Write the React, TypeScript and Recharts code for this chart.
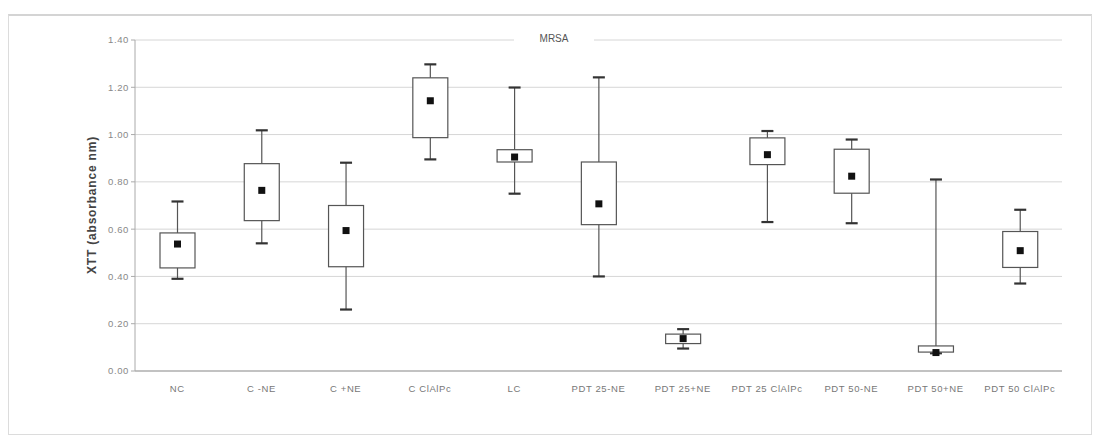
import { ComposedChart, Bar, XAxis, YAxis, CartesianGrid } from "recharts";

const categories = [
  "NC",
  "C -NE",
  "C +NE",
  "C ClAlPc",
  "LC",
  "PDT 25-NE",
  "PDT 25+NE",
  "PDT 25 ClAlPc",
  "PDT 50-NE",
  "PDT 50+NE",
  "PDT 50 ClAlPc",
];
const whiskerLow = [0.39, 0.54, 0.26, 0.895, 0.75, 0.4, 0.095, 0.63, 0.625, 0.075, 0.37];
const q1 = [0.436, 0.636, 0.441, 0.987, 0.884, 0.619, 0.116, 0.873, 0.752, 0.08, 0.438];
const q3 = [0.584, 0.877, 0.7, 1.24, 0.936, 0.884, 0.156, 0.986, 0.938, 0.106, 0.59];
const whiskerHigh = [0.717, 1.018, 0.881, 1.297, 1.199, 1.242, 0.177, 1.015, 0.979, 0.81, 0.682];
const means = [0.537, 0.764, 0.594, 1.143, 0.905, 0.707, 0.137, 0.915, 0.824, 0.078, 0.509];
const yTicks = [0, 0.2, 0.4, 0.6, 0.8, 1.0, 1.2, 1.4];

const data = categories.map((name, i) => ({
  name,
  min: whiskerLow[i],
  q1: q1[i],
  q3: q3[i],
  max: whiskerHigh[i],
  mean: means[i],
}));

const FONT = "'Liberation Sans', Arial, sans-serif";

// draws whisker, caps, box and mean marker inside the min..max range bar
function BoxShape(props: any) {
  const { x, y, width, height, payload } = props;
  if (!payload) return null;
  const top = Math.min(y, y + height);
  const bot = Math.max(y, y + height);
  const span = payload.max - payload.min || 1;
  const py = (v: number) => bot - ((v - payload.min) / span) * (bot - top);
  const cx = x + width / 2;
  const yq1 = py(payload.q1);
  const yq3 = py(payload.q3);
  const ym = py(payload.mean);
  const cap = 6;
  return (
    <g>
      <line x1={cx} x2={cx} y1={top} y2={bot} stroke="#555" strokeWidth={1.2} />
      <line x1={cx - cap} x2={cx + cap} y1={top} y2={top} stroke="#333" strokeWidth={2.2} />
      <line x1={cx - cap} x2={cx + cap} y1={bot} y2={bot} stroke="#333" strokeWidth={2.2} />
      <rect
        x={x}
        y={yq3}
        width={width}
        height={Math.max(yq1 - yq3, 1)}
        fill="#fff"
        stroke="#555"
        strokeWidth={1.2}
      />
      <rect x={cx - 3.5} y={ym - 3.5} width={7} height={7} fill="#111" />
    </g>
  );
}

export default function App() {
  return (
    <div
      style={{
        position: "relative",
        marginTop: 6,
        width: 1082,
        height: 418,
        border: "1px solid #dcdcdc",
        borderTop: "2px solid #d4d4d4",
        background: "#fff",
      }}
    >
      <ComposedChart
        width={1082}
        height={418}
        data={data}
        margin={{ top: 24, right: 29, left: 60, bottom: 33 }}
      >
        <CartesianGrid vertical={false} stroke="#d6d6d6" />
        <XAxis
          dataKey="name"
          interval={0}
          tickLine={false}
          axisLine={{ stroke: "#999" }}
          height={30}
          tick={{ fontSize: 9.5, fill: "#777", fontFamily: FONT, letterSpacing: 0.6 }}
          tickMargin={8}
        />
        <YAxis
          domain={[0, 1.4]}
          ticks={yTicks}
          width={66}
          tickFormatter={(v: number) => v.toFixed(2)}
          axisLine={{ stroke: "#aaa" }}
          tickLine={{ stroke: "#aaa" }}
          tickSize={4}
          tick={{ fontSize: 9.5, fill: "#888", fontFamily: FONT, letterSpacing: 0.6 }}
        />
        <Bar
          dataKey={(d: any) => [d.min, d.max]}
          barSize={35}
          shape={<BoxShape />}
          isAnimationActive={false}
        />
      </ComposedChart>
      <div
        style={{
          position: "absolute",
          left: 505,
          top: 17,
          width: 80,
          textAlign: "center",
          background: "#fff",
          fontFamily: FONT,
          fontSize: 10,
          color: "#555",
          lineHeight: "12px",
        }}
      >
        MRSA
      </div>
      <div
        style={{
          position: "absolute",
          left: 83 - 100,
          top: 189 - 8,
          width: 200,
          textAlign: "center",
          transform: "rotate(-90deg)",
          fontFamily: FONT,
          fontSize: 12,
          fontWeight: 600,
          color: "#444",
          letterSpacing: 0.8,
          lineHeight: "16px",
        }}
      >
        XTT (absorbance nm)
      </div>
    </div>
  );
}
